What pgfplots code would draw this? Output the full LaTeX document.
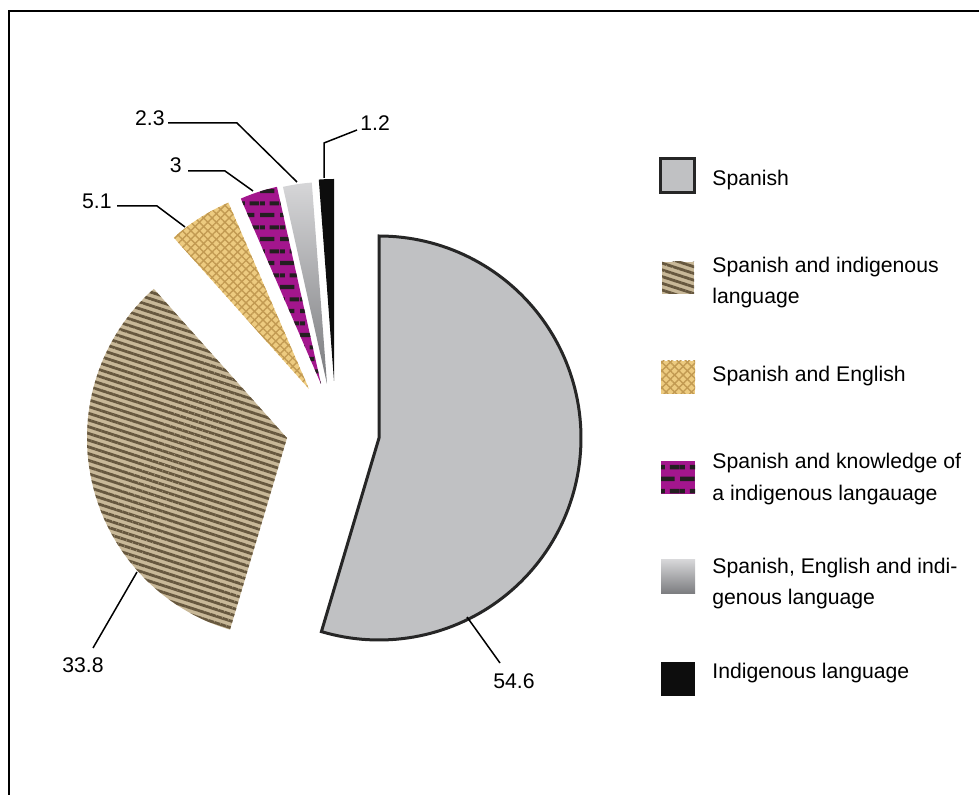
\documentclass[border=0pt]{standalone}
\usepackage{pgfplots}
\pgfplotsset{compat=1.18}
\usepackage{pgfplotstable}
\usepackage{fontspec}
\setmainfont{Liberation Sans}
\usetikzlibrary{patterns,patterns.meta}

\definecolor{spgray}{HTML}{C0C1C3}
\definecolor{spedge}{HTML}{262626}
\definecolor{stripebg}{HTML}{C8B898}
\definecolor{stripefg}{HTML}{67583F}
\definecolor{waffbg}{HTML}{EDCB80}
\definecolor{wafffg}{HTML}{C29A52}
\definecolor{magen}{HTML}{A3168D}
\definecolor{brick}{HTML}{231F20}
\definecolor{gtop}{HTML}{D6D6D8}
\definecolor{gmid}{HTML}{A8A9AB}
\definecolor{gbot}{HTML}{7A7B7E}

\pgfdeclarepatternformonly{mybricks}{\pgfpointorigin}{\pgfpoint{10pt}{12pt}}{\pgfpoint{10pt}{12pt}}{%
  \pgfpathrectangle{\pgfpoint{0pt}{1pt}}{\pgfpoint{7.5pt}{2.2pt}}%
  \pgfpathrectangle{\pgfpoint{5pt}{7pt}}{\pgfpoint{5pt}{2.2pt}}%
  \pgfpathrectangle{\pgfpoint{0pt}{7pt}}{\pgfpoint{2.5pt}{2.2pt}}%
  \pgfusepath{fill}}

\tikzset{
  slA/.style={fill=spgray, draw=spedge, line width=1.5pt, line join=miter},
  slB/.style={fill=stripebg, draw=none, postaction={pattern={Lines[angle=-18,distance=3.2pt,line width=1.4pt]}, pattern color=stripefg}},
  slC/.style={fill=waffbg, draw=none, postaction={pattern={Lines[angle=45,distance=3pt,line width=0.7pt]}, pattern color=wafffg}, postaction={pattern={Lines[angle=-45,distance=3pt,line width=0.7pt]}, pattern color=wafffg}},
  slD/.style={fill=magen, draw=none, postaction={pattern=mybricks, pattern color=brick}},
  slE/.style={draw=none, top color=gtop, middle color=gmid, bottom color=gbot},
  slF/.style={fill=black!95, draw=none},
  lab/.style={inner sep=0pt, font=\fontsize{10.6}{15}\selectfont},
}

% value, explosion centre (x,y), radius (picture units)
\pgfplotstableread{
name value cx cy r
A 54.6 379 438 202
B 33.8 287 438 200
C 5.1 309 389 203
D 3.0 321 384 202
E 2.3 327 384 202
F 1.2 334 381 202
}\pietable

\gdef\cum{0}
\newcommand\pieslice[2]{% #1 row, #2 style
  \pgfplotstablegetelem{#1}{value}\of\pietable\let\pv\pgfplotsretval
  \pgfplotstablegetelem{#1}{cx}\of\pietable\let\pcx\pgfplotsretval
  \pgfplotstablegetelem{#1}{cy}\of\pietable\let\pcy\pgfplotsretval
  \pgfplotstablegetelem{#1}{r}\of\pietable\let\pr\pgfplotsretval
  \pgfmathsetmacro\aEnd{90-3.6*\cum}%
  \pgfmathsetmacro\aStart{90-3.6*(\cum+\pv)}%
  \edef\doit{\noexpand\addplot[#2, domain=\aStart:\aEnd, samples=120]
    ({\pcx+\pr*cos(x)},{\pcy-\pr*sin(x)}) -- (axis cs:\pcx,\pcy) -- cycle;}%
  \doit
  \pgfmathsetmacro\newcum{\cum+\pv}\global\let\cum\newcum
}

\begin{document}
\begin{tikzpicture}
\begin{axis}[width=489.5pt, height=397.5pt, scale only axis,
  xmin=0, xmax=979, ymin=0, ymax=795, y dir=reverse,
  hide axis, clip=false]

\pieslice{0}{slA}
\pieslice{1}{slB}
\pieslice{2}{slC}
\pieslice{3}{slD}
\pieslice{4}{slE}
\pieslice{5}{slF}

% leader lines
\addplot[black, line width=0.75pt] coordinates {(168,123) (237,123) (297,182)};
\addplot[black, line width=0.75pt] coordinates {(188,171) (225,171) (253,191)};
\addplot[black, line width=0.75pt] coordinates {(357,130) (324,143) (324,178)};
\addplot[black, line width=0.75pt] coordinates {(117,206) (157,206) (185,227)};
\addplot[black, line width=0.75pt] coordinates {(137,572) (93,648)};
\addplot[black, line width=0.75pt] coordinates {(467,617) (500,663)};

% value labels
\node[lab, anchor=base east] at (axis cs:165,126) {2.3};
\node[lab, anchor=base east] at (axis cs:182,173) {3};
\node[lab, anchor=base west] at (axis cs:360,131) {1.2};
\node[lab, anchor=base east] at (axis cs:112,209) {5.1};
\node[lab, anchor=base west] at (axis cs:62,672) {33.8};
\node[lab, anchor=base west] at (axis cs:493,688) {54.6};

% legend
\path[slA] (axis cs:660.5,158.5) rectangle (axis cs:694.5,192.5);
\path[slB] (axis cs:662,262) rectangle (axis cs:694,294);
\path[slC] (axis cs:661,361) rectangle (axis cs:695,394);
\path[slD] (axis cs:661,461) rectangle (axis cs:695,494);
\path[slE] (axis cs:661,560) rectangle (axis cs:695,594);
\path[slF] (axis cs:661,662) rectangle (axis cs:695,696);

\node[lab, anchor=base west] at (axis cs:712,186) {Spanish};
\node[lab, anchor=base west] at (axis cs:712,273) {Spanish and indigenous};
\node[lab, anchor=base west] at (axis cs:712,304) {language};
\node[lab, anchor=base west] at (axis cs:712,382) {Spanish and English};
\node[lab, anchor=base west] at (axis cs:712,469) {Spanish and knowledge of};
\node[lab, anchor=base west] at (axis cs:712,501) {a indigenous langauage};
\node[lab, anchor=base west] at (axis cs:712,574) {Spanish, English and indi-};
\node[lab, anchor=base west] at (axis cs:712,604) {genous language};
\node[lab, anchor=base west] at (axis cs:712,678) {Indigenous language};

% frame
\draw[black, line width=1.2pt] (axis cs:9,795) -- (axis cs:9,11) -- (axis cs:979,11);
\end{axis}
\pgfresetboundingbox
\path (current axis.south west) rectangle (current axis.north east);
\end{tikzpicture}
\end{document}
